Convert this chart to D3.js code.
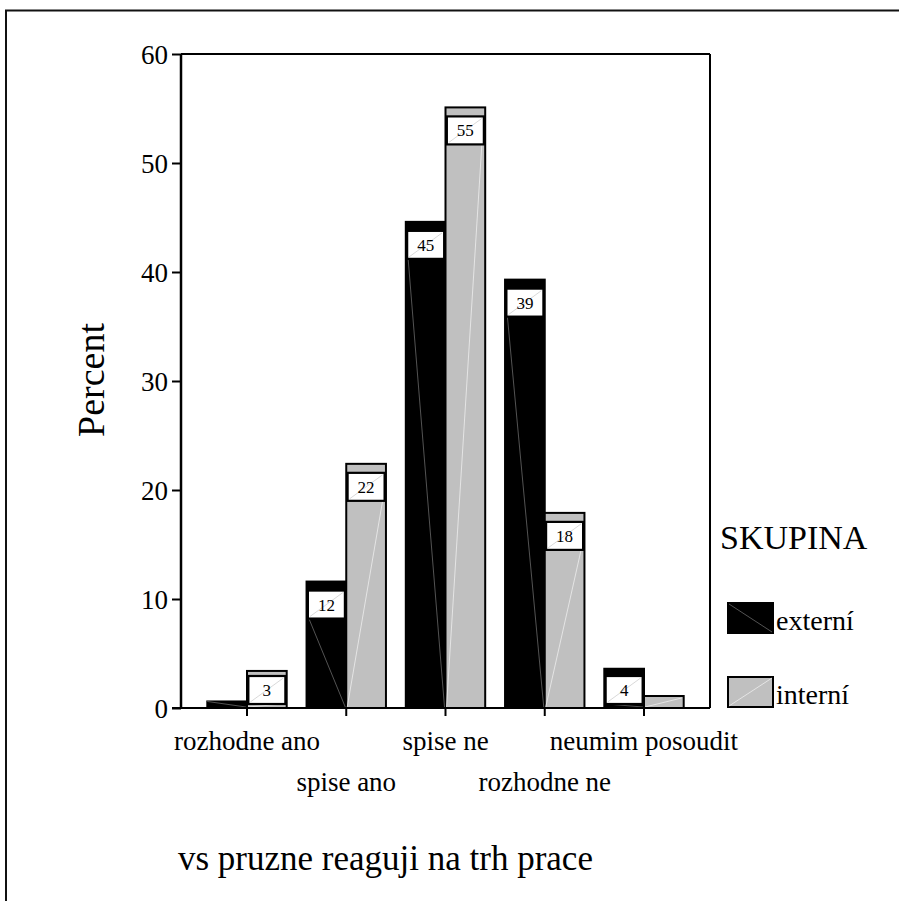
<!DOCTYPE html>
<html>
<head>
<meta charset="utf-8">
<script src="https://cdn.jsdelivr.net/npm/d3@7"></script>
<style>
  html, body { margin: 0; padding: 0; background: #fff; }
  svg { display: block; }
  text { font-family: "Liberation Serif", "Times New Roman", serif; fill: #000; }
</style>
</head>
<body>
<svg id="chart" width="899" height="901"></svg>
<script>
// ---- data ----
const categories = ["rozhodne ano", "spise ano", "spise ne", "rozhodne ne", "neumim posoudit"];
const groups = ["externí", "interní"];
const externiValues = [0.6, 11.6, 44.6, 39.3, 3.6];
const interniValues = [3.4, 22.4, 55.1, 17.9, 1.1];
const yTicks = [0, 10, 20, 30, 40, 50, 60];
const groupColors = ["#000000", "#c0c0c0"];
const yTitle = "Percent";
const xTitle = "vs pruzne reaguji na trh prace";
const legendTitle = "SKUPINA";

const svg = d3.select("#chart");
const W = 899, H = 901;
const m = { left: 181, right: 710, top: 54, bottom: 708 };
const serif = "Liberation Serif, Times New Roman, serif";

// page frame
svg.append("line").attr("x1", 5).attr("x2", W).attr("y1", 10.5).attr("y2", 10.5)
  .attr("stroke", "#111").attr("stroke-width", 2);
svg.append("line").attr("x1", 6).attr("x2", 6).attr("y1", 10).attr("y2", H)
  .attr("stroke", "#111").attr("stroke-width", 2);

const x = d3.scaleBand().domain(categories).range([m.left, m.right])
  .paddingInner(0.2).paddingOuter(0.265);
const x1 = d3.scaleBand().domain(groups).range([0, x.bandwidth()]).padding(0);
const y = d3.scaleLinear().domain([0, 60]).range([m.bottom, m.top]);

const data = [];
categories.forEach((c, i) => {
  data.push({ cat: c, grp: groups[0], v: externiValues[i], gi: 0 });
  data.push({ cat: c, grp: groups[1], v: interniValues[i], gi: 1 });
});

// bars
const bars = svg.append("g");
bars.selectAll("rect").data(data).enter().append("rect")
  .attr("x", d => x(d.cat) + x1(d.grp))
  .attr("y", d => y(d.v))
  .attr("width", x1.bandwidth())
  .attr("height", d => y(0) - y(d.v))
  .attr("fill", d => groupColors[d.gi])
  .attr("stroke", "#000").attr("stroke-width", 2);

// label boxes
const bw = 37, bh = 28;
const labeled = data.filter(d => d.v >= 2);
function boxTop(d) { return Math.min(y(d.v) + 9, y(0) - 4 - bh); }
function boxX(d) { return x(d.cat) + x1(d.grp) + x1.bandwidth() / 2 - bw / 2; }

// faint diagonal artefact lines inside bars
const art = svg.append("g");
data.forEach(d => {
  const bx0 = x(d.cat) + x1(d.grp), bx1 = bx0 + x1.bandwidth();
  const hasBox = d.v >= 2;
  if (d.gi === 0) {
    const sx = hasBox ? boxX(d) + 1 : bx0;
    const sy = hasBox ? boxTop(d) + bh : y(d.v);
    art.append("line").attr("x1", sx).attr("y1", sy).attr("x2", bx1 - 1).attr("y2", y(0) - 1)
      .attr("stroke", "#777").attr("stroke-width", 0.7);
  } else {
    const ex = hasBox ? boxX(d) + bw - 2 : bx1 - 2;
    const ey = hasBox ? boxTop(d) + bh : y(d.v) + 2;
    art.append("line").attr("x1", bx0 + 1).attr("y1", y(0) - 1).attr("x2", ex).attr("y2", ey)
      .attr("stroke", "#eeeeee").attr("stroke-width", 0.8);
  }
});

const lab = svg.append("g");
const lg = lab.selectAll("g").data(labeled).enter().append("g");
lg.append("rect")
  .attr("x", boxX).attr("y", boxTop)
  .attr("width", bw).attr("height", bh)
  .attr("fill", "#fff").attr("stroke", "#000").attr("stroke-width", 2.2);
lg.append("line")
  .attr("x1", d => boxX(d) + 2).attr("y1", d => boxTop(d) + bh - 2)
  .attr("x2", d => boxX(d) + bw - 2).attr("y2", d => boxTop(d) + 2)
  .attr("stroke", "#c8c8c8").attr("stroke-width", 0.7);
lg.append("text")
  .attr("x", d => boxX(d) + bw / 2).attr("y", d => boxTop(d) + bh / 2 + 6)
  .attr("text-anchor", "middle").attr("font-size", 17)
  .text(d => d3.format(".0f")(d.v));

// plot frame top & right
svg.append("line").attr("x1", m.left).attr("x2", m.right).attr("y1", m.top).attr("y2", m.top)
  .attr("stroke", "#000").attr("stroke-width", 2);
svg.append("line").attr("x1", m.right).attr("x2", m.right).attr("y1", m.top).attr("y2", m.bottom)
  .attr("stroke", "#000").attr("stroke-width", 2);

// y axis
const yAxis = svg.append("g").attr("transform", `translate(${m.left},0)`)
  .call(d3.axisLeft(y).tickValues(yTicks).tickSize(9).tickPadding(6).tickFormat(d3.format("d")));
yAxis.attr("font-family", serif);
yAxis.select(".domain").attr("stroke", "#000").attr("stroke-width", 2.5).attr("d", `M0,${m.top}V${m.bottom}`);
yAxis.selectAll(".tick line").attr("stroke", "#000").attr("stroke-width", 2);
yAxis.selectAll(".tick text").attr("font-size", 27)
  .attr("font-family", serif).attr("dy", "0.34em").attr("x", -13);

// x axis
const xAxis = svg.append("g").attr("transform", `translate(0,${m.bottom})`)
  .call(d3.axisBottom(x).tickSize(8).tickPadding(0));
xAxis.attr("font-family", serif);
xAxis.select(".domain").attr("stroke", "#000").attr("stroke-width", 2).attr("d", `M${m.left - 9},0H${m.right}`);
xAxis.selectAll(".tick line").attr("stroke", "#000").attr("stroke-width", 2);
xAxis.selectAll(".tick text").attr("font-size", 27)
  .attr("font-family", serif)
  .attr("dy", null)
  .attr("y", (d, i) => i % 2 === 0 ? 42 : 83);

// y title
svg.append("text").attr("transform", "translate(104,380) rotate(-90)")
  .attr("text-anchor", "middle").attr("font-size", 38).text(yTitle);

// x title
svg.append("text").attr("x", 178).attr("y", 870).attr("font-size", 35).text(xTitle);

// legend
svg.append("text").attr("x", 720).attr("y", 549).attr("font-size", 34).text(legendTitle);
const legY = [603, 677];
groups.forEach((g, i) => {
  svg.append("rect").attr("x", 728).attr("y", legY[i]).attr("width", 45).attr("height", 30)
    .attr("fill", groupColors[i]).attr("stroke", "#000").attr("stroke-width", 2);
  if (i === 0) {
    svg.append("line").attr("x1", 729).attr("y1", legY[i] + 1).attr("x2", 772).attr("y2", legY[i] + 29)
      .attr("stroke", "#777").attr("stroke-width", 0.7);
  } else {
    svg.append("line").attr("x1", 729).attr("y1", legY[i] + 29).attr("x2", 772).attr("y2", legY[i] + 1)
      .attr("stroke", "#eee").attr("stroke-width", 0.8);
  }
  svg.append("text").attr("x", 776).attr("y", legY[i] + 27).attr("font-size", 28).text(g);
});
</script>
</body>
</html>
